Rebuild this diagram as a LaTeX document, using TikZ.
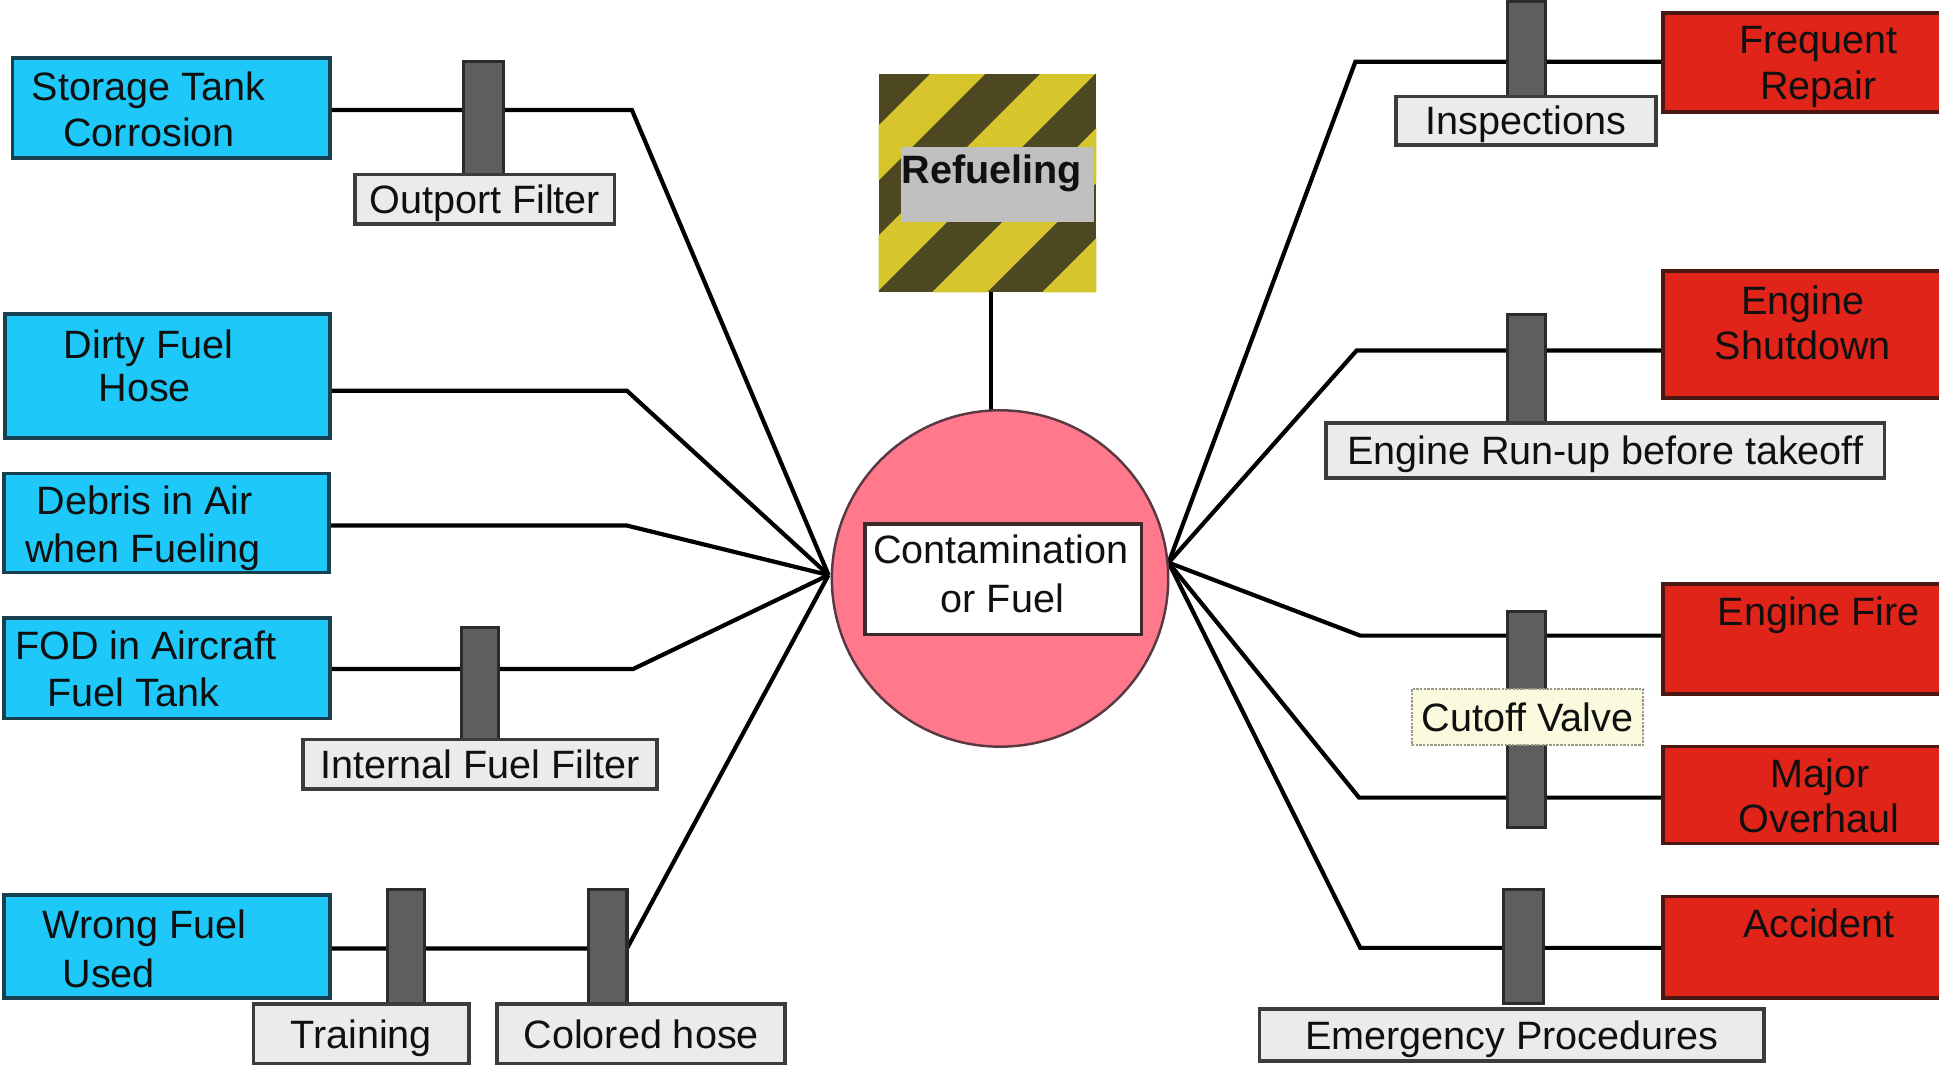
\documentclass[tikz,border=0pt]{standalone}
\usepackage{fontspec}
\setmainfont{Liberation Sans}
\usetikzlibrary{backgrounds}
\definecolor{bluefill}{HTML}{1EC8F8}
\definecolor{blueline}{HTML}{17414F}
\definecolor{redfill}{HTML}{E0241A}
\definecolor{redline}{HTML}{4A1712}
\definecolor{barfill}{HTML}{5E5E5E}
\definecolor{barline}{HTML}{2B2B2B}
\definecolor{lblfill}{HTML}{EBEBEB}
\definecolor{lblline}{HTML}{3C3C3C}
\definecolor{cutfill}{HTML}{FAFADF}
\definecolor{cutline}{HTML}{9A9A8A}
\definecolor{circfill}{HTML}{FF788C}
\definecolor{circline}{HTML}{5A3A42}
\definecolor{hazyellow}{HTML}{D6C52C}
\definecolor{hazdark}{HTML}{4E4822}
\definecolor{bandgrey}{HTML}{C0C0C0}
\definecolor{hubline}{HTML}{3B2B2B}
\definecolor{inktext}{HTML}{101010}
\begin{document}
\begin{tikzpicture}[x=1pt,y=-1pt,
  every node/.style={font=\fontsize{32}{38}\selectfont, text=inktext, inner sep=0pt, outer sep=0pt},
  sz/.style 2 args={minimum width=#1, minimum height=#2},
  causebox/.style={rectangle, draw=blueline, fill=bluefill, line width=3pt},
  effectbox/.style={rectangle, draw=redline, fill=redfill, line width=3pt},
  barrier/.style={rectangle, draw=barline, fill=barfill, line width=2.5pt},
  tag/.style={rectangle, draw=lblline, fill=lblfill, line width=3pt, text height=23pt, text depth=0pt},
  cuttag/.style={rectangle, draw=cutline, fill=cutfill, densely dotted, line width=2pt},
  txt/.style={anchor=base},
  link/.style={line width=3.4pt, draw=black}]

\useasboundingbox (0,0) rectangle (1568,863);

% ---------- refueling sign ----------
\node[rectangle, sz={176.1pt}{176.5pt}] (refuel) at (798.55,148.25) {};
\begin{scope}
  \clip (710.5,60) rectangle (886.6,236.5);
  \fill[hazdark] (710.5,60) rectangle (886.6,236.5);
  \foreach \u in {723,812,901,990,1079} {
    \fill[hazyellow] ({\u-60},60) -- ({\u-15.5},60) -- ({\u-192},236.5) -- ({\u-236.5},236.5) -- cycle;
  }
\end{scope}
\node[rectangle, fill=bandgrey, sz={156pt}{60.3pt}] (band) at (807,149.15) {};
\node[txt, font=\fontsize{32}{38}\selectfont\bfseries] (refueltxt) at (802,148.7) {Refueling};

% ---------- hub ----------
\node[circle, fill=circfill, draw=circline, line width=2pt, minimum size=272pt] (hub) at (808.7,467.8) {};
\node[rectangle, fill=white, draw=hubline, line width=3pt, sz={223.5pt}{89.7pt}] (hubbox) at (811.25,468.35) {};
\node[txt] (hub1) at (809.2,456) {Contamination};
\node[txt] (hub2) at (810.5,495) {or Fuel};
\coordinate (L) at (670,465);
\coordinate (R) at (945,455);

% ---------- cause boxes ----------
\node[causebox, sz={257pt}{81pt}] (storage) at (138.5,87.5) {};
\node[causebox, sz={263pt}{100pt}] (dirty) at (135.5,304) {};
\node[causebox, sz={263pt}{80pt}] (debris) at (134.5,423) {};
\node[causebox, sz={264pt}{81pt}] (fod) at (135,540.5) {};
\node[causebox, sz={264pt}{83pt}] (wrong) at (135,765.5) {};

\node[txt] (storage1) at (120,81.3) {Storage Tank};
\node[txt] (storage2) at (120.6,118.4) {Corrosion};
\node[txt] (dirty1) at (120,289.6) {Dirty Fuel};
\node[txt] (dirty2) at (117,325) {Hose};
\node[txt] (debris1) at (117,416) {Debris in Air};
\node[txt] (debris2) at (115.5,454.9) {when Fueling};
\node[txt] (fod1) at (118,533.3) {FOD in Aircraft};
\node[txt] (fod2) at (108,571.2) {Fuel Tank};
\node[txt] (wrong1) at (117,758.7) {Wrong Fuel};
\node[txt] (wrong2) at (88,798.3) {Used};

% ---------- effect boxes ----------
\node[effectbox, sz={230pt}{80pt}] (repair) at (1460,50.5) {};
\node[effectbox, sz={230pt}{103pt}] (shutdown) at (1460,270.5) {};
\node[effectbox, sz={230pt}{89pt}] (fire) at (1460,516.5) {};
\node[effectbox, sz={230pt}{78.4pt}] (overhaul) at (1460,642.8) {};
\node[effectbox, sz={230pt}{82pt}] (accident) at (1460,766) {};

\node[txt] (repair1) at (1470.6,43.2) {Frequent};
\node[txt] (repair2) at (1470.6,80.8) {Repair};
\node[txt] (shutdown1) at (1458,254) {Engine};
\node[txt] (shutdown2) at (1458,291) {Shutdown};
\node[txt] (fire1) at (1470.8,505.6) {Engine Fire};
\node[txt] (overhaul1) at (1471.6,636.8) {Major};
\node[txt] (overhaul2) at (1470.8,673.6) {Overhaul};
\node[txt] (accident1) at (1471,758.1) {Accident};

% ---------- barriers ----------
\node[barrier, sz={32pt}{91pt}] (barOut) at (391,95.5) {};
\node[barrier, sz={30pt}{90.5pt}] (barInt) at (388,552.75) {};
\node[barrier, sz={30pt}{93pt}] (barTrain) at (328,765.5) {};
\node[barrier, sz={31pt}{93pt}] (barHose) at (491.5,765.5) {};
\node[barrier, sz={31pt}{76.6pt}] (barInsp) at (1234.5,39.7) {};
\node[barrier, sz={31pt}{88pt}] (barRun) at (1234.5,298) {};
\node[barrier, sz={31pt}{175pt}] (barCut) at (1234.5,582) {};
\node[barrier, sz={32pt}{92.6pt}] (barEmer) at (1232,765.3) {};

% ---------- barrier labels ----------
\node[tag, sz={210pt}{40pt}] (lblOut) at (392,161) {Outport Filter};
\node[tag, sz={286pt}{40pt}] (lblInt) at (388,618) {Internal Fuel Filter};
\node[tag, sz={174pt}{48pt}] (lblTrain) at (292,836) {Training};
\node[tag, sz={233pt}{48pt}] (lblHose) at (518.5,836) {Colored hose};
\node[tag, sz={210.4pt}{39pt}] (lblInsp) at (1233.8,97.5) {Inspections};
\node[tag, sz={452pt}{44.5pt}] (lblRun) at (1298,364.25) {Engine Run-up before takeoff};
\node[cuttag, sz={187pt}{45.6pt}] (lblCut) at (1235.15,579.8) {};
\node[txt] (lblCutTxt) at (1235.2,591.4) {Cutoff Valve};
\node[tag, sz={408pt}{42pt}] (lblEmer) at (1222.6,836.8) {Emergency Procedures};

% ---------- connectors (behind everything) ----------
\coordinate (e1) at (511,89);
\coordinate (e2) at (507,316);
\coordinate (e3) at (507,425);
\coordinate (e4) at (512,541);
\coordinate (e5) at (507,767);
\coordinate (f1) at (1096,50);
\coordinate (f2) at (1097,283.5);
\coordinate (f3) at (1100,514);
\coordinate (f4) at (1099,645);
\coordinate (f5) at (1100,766.5);

\begin{pgfonlayer}{background}
  \fill[white] (0,0) rectangle (1568,863);
  \draw[link] (storage.east |- e1) -- (e1) -- (L);
  \draw[link] (dirty.east |- e2) -- (e2) -- (L);
  \draw[link] (debris.east |- e3) -- (e3) -- (L);
  \draw[link] (fod.east |- e4) -- (e4) -- (L);
  \draw[link] (wrong.east |- e5) -- (e5) -- (L);
  \draw[link] (repair.west |- f1) -- (f1) -- (R);
  \draw[link] (shutdown.west |- f2) -- (f2) -- (R);
  \draw[link] (fire.west |- f3) -- (f3) -- (R);
  \draw[link] (overhaul.west |- f4) -- (f4) -- (R);
  \draw[link] (accident.west |- f5) -- (f5) -- (R);
  \draw[link] ([xshift=3pt]refuel.south) -- ([xshift=3pt]refuel.south |- hub.north);
\end{pgfonlayer}

\end{tikzpicture}
\end{document}
